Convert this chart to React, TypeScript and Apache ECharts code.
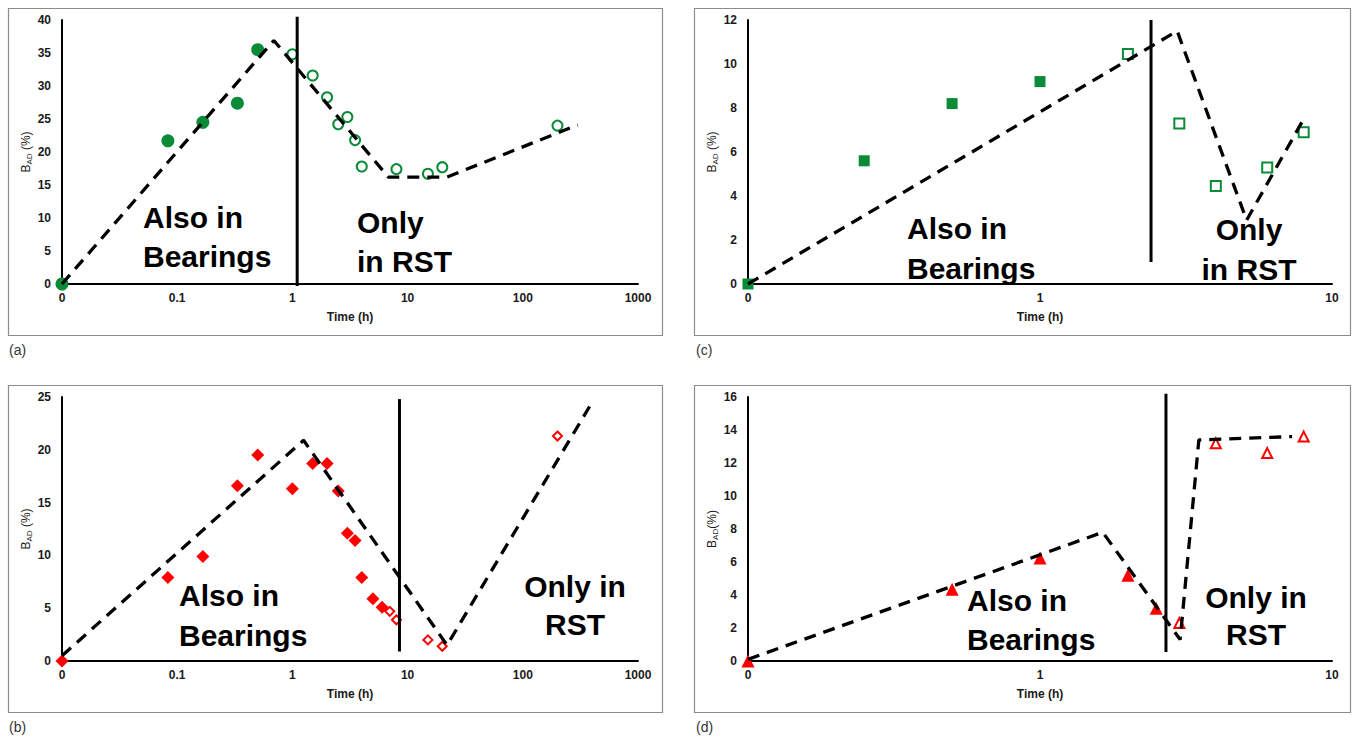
import React, { useEffect, useRef } from "react";
import * as echarts from "echarts";

const FONT = "Arial, 'Liberation Sans', Helvetica, sans-serif";
const GREEN = "#0b8a37";
const RED = "#ff0000";
const INK = "#1a1a1a";

// ---------- Panel (a) ----------
const aBearTime = [0, 0.083, 0.167, 0.333, 0.5];
const aBearVal = [0, 21.7, 24.5, 27.4, 35.5];
const aRstTime = [1, 1.5, 2, 2.5, 3, 3.5, 4, 8, 15, 20, 200];
const aRstVal = [34.8, 31.6, 28.3, 24.2, 25.3, 21.8, 17.8, 17.4, 16.7, 17.7, 24.0];
const aTrendTime = [0, 0.69, 6.8, 22, 300];
const aTrendVal = [0, 36.9, 16.2, 16.2, 24.1];
const aDividerTime = 1.1;
const aDividerRange = [-0.3, 40.5];

// ---------- Panel (b) ----------
const bBearTime = [0, 0.083, 0.167, 0.333, 0.5, 1, 1.5, 2, 2.5, 3, 3.5, 4, 5, 6];
const bBearVal = [0, 7.9, 9.9, 16.6, 19.5, 16.3, 18.7, 18.7, 16.1, 12.1, 11.4, 7.9, 5.9, 5.1];
const bRstTime = [7, 8, 15, 20, 200];
const bRstVal = [4.7, 3.9, 2.0, 1.4, 21.3];
const bTrendTime = [0, 1.25, 22, 380];
const bTrendVal = [0.5, 20.9, 1.5, 24.1];
const bDividerTime = 8.5;
const bDividerRange = [0.9, 24.8];

// ---------- Panel (c) ----------
const cBearTime = [0, 0.25, 0.5, 1];
const cBearVal = [0, 5.6, 8.2, 9.2];
const cRstTime = [2, 3, 4, 6, 8];
const cRstVal = [10.45, 7.3, 4.45, 5.3, 6.9];
const cTrendTime = [0, 2.95, 5.1, 8];
const cTrendVal = [0, 11.5, 2.9, 7.5];
const cDividerTime = 2.4;
const cDividerRange = [1.0, 12.0];

// ---------- Panel (d) ----------
const dBearTime = [0, 0.5, 1, 2, 2.5];
const dBearVal = [0, 4.35, 6.25, 5.2, 3.2];
const dRstTime = [3, 4, 6, 8];
const dRstVal = [2.3, 13.2, 12.6, 13.6];
const dTrendTime = [0, 1.64, 3.02, 3.5, 7.3];
const dTrendVal = [0.1, 7.8, 1.3, 13.4, 13.6];
const dDividerTime = 2.7;
const dDividerRange = [0.55, 16.2];

// axis settings
const xMinAB = 0.01;
const xMaxAB = 1000;
const xMinCD = 0.1;
const xMaxCD = 10;
const yMaxList = [40, 25, 12, 16];
const yIntervalList = [5, 5, 2, 2];
const xAxisTitle = "Time (h)";
const alsoLines = ["Also in", "Bearings"];

type PanelDef = {
  grid: { left: number; top: number; width: number; height: number };
  xMin: number;
  xMax: number;
  yMax: number;
  yInt: number;
  yName: string;
  color: string;
  symbol: string;
  fillSize: number;
  openSize: number;
  bear: [number[], number[]];
  rst: [number[], number[]];
  trend: [number[], number[]];
  divider: [number, number[]];
};

const panels: PanelDef[] = [
  {
    grid: { left: 62, top: 20, width: 576, height: 264 },
    xMin: xMinAB, xMax: xMaxAB, yMax: yMaxList[0], yInt: yIntervalList[0],
    yName: "{b|B}{s|AD}{b| (%)}", color: GREEN, symbol: "circle", fillSize: 13, openSize: 10,
    bear: [aBearTime, aBearVal], rst: [aRstTime, aRstVal], trend: [aTrendTime, aTrendVal],
    divider: [aDividerTime, aDividerRange],
  },
  {
    grid: { left: 62, top: 397, width: 576, height: 264 },
    xMin: xMinAB, xMax: xMaxAB, yMax: yMaxList[1], yInt: yIntervalList[1],
    yName: "{b|B}{s|AD}{b| (%)}", color: RED, symbol: "diamond", fillSize: 13, openSize: 9,
    bear: [bBearTime, bBearVal], rst: [bRstTime, bRstVal], trend: [bTrendTime, bTrendVal],
    divider: [bDividerTime, bDividerRange],
  },
  {
    grid: { left: 748, top: 20, width: 584, height: 264 },
    xMin: xMinCD, xMax: xMaxCD, yMax: yMaxList[2], yInt: yIntervalList[2],
    yName: "{b|B}{s|AD}{b| (%)}", color: GREEN, symbol: "rect", fillSize: 11, openSize: 10,
    bear: [cBearTime, cBearVal], rst: [cRstTime, cRstVal], trend: [cTrendTime, cTrendVal],
    divider: [cDividerTime, cDividerRange],
  },
  {
    grid: { left: 748, top: 397, width: 584, height: 264 },
    xMin: xMinCD, xMax: xMaxCD, yMax: yMaxList[3], yInt: yIntervalList[3],
    yName: "{b|B}{s|AD}{b|(%)}", color: RED, symbol: "triangle", fillSize: 13, openSize: 10,
    bear: [dBearTime, dBearVal], rst: [dRstTime, dRstVal], trend: [dTrendTime, dTrendVal],
    divider: [dDividerTime, dDividerRange],
  },
];

const pairs = (t: number[], v: number[], xMin: number) =>
  t.map((x, i) => [x === 0 ? xMin : x, v[i]]);

function buildOption() {
  const grid: any[] = [];
  const xAxis: any[] = [];
  const yAxis: any[] = [];
  const series: any[] = [];

  panels.forEach((p, i) => {
    grid.push({ ...p.grid, containLabel: false });
    xAxis.push({
      type: "log",
      logBase: 10,
      gridIndex: i,
      min: p.xMin,
      max: p.xMax,
      name: xAxisTitle,
      nameLocation: "middle",
      nameGap: 27,
      nameTextStyle: { fontFamily: FONT, fontSize: 12, fontWeight: "bold", color: INK },
      axisLine: { show: true, onZero: false, lineStyle: { color: "#000", width: 2 } },
      axisTick: { show: false },
      splitLine: { show: false },
      minorTick: { show: false },
      axisLabel: {
        fontFamily: FONT,
        fontSize: 12,
        fontWeight: "bold",
        color: INK,
        margin: 8,
        showMinLabel: true,
        showMaxLabel: true,
        formatter: (v: number) =>
          Math.abs(v - p.xMin) < p.xMin * 1e-6 ? "0" : String(+Number(v).toPrecision(6)),
      },
    });
    yAxis.push({
      type: "value",
      gridIndex: i,
      min: 0,
      max: p.yMax,
      interval: p.yInt,
      name: p.yName,
      nameLocation: "middle",
      nameGap: 25,
      nameRotate: 90,
      nameTextStyle: {
        color: INK,
        fontFamily: FONT,
        rich: {
          b: { fontSize: 12, fontFamily: FONT, color: INK, lineHeight: 16, verticalAlign: "middle" },
          s: { fontSize: 8, fontFamily: FONT, color: INK, lineHeight: 8, verticalAlign: "bottom" },
        },
      },
      axisLine: { show: true, onZero: false, lineStyle: { color: "#000", width: 2 } },
      axisTick: { show: false },
      splitLine: { show: false },
      axisLabel: { fontFamily: FONT, fontSize: 12, fontWeight: "bold", color: INK, margin: 11 },
    });

    series.push({
      type: "scatter",
      xAxisIndex: i,
      yAxisIndex: i,
      symbol: p.symbol,
      symbolSize: p.fillSize,
      data: pairs(p.bear[0], p.bear[1], p.xMin),
      itemStyle: { color: p.color, opacity: 1 },
      z: 3,
    });
    series.push({
      type: "scatter",
      xAxisIndex: i,
      yAxisIndex: i,
      symbol: p.symbol,
      symbolSize: p.openSize,
      data: pairs(p.rst[0], p.rst[1], p.xMin),
      itemStyle: { color: "#ffffff", borderColor: p.color, borderWidth: 2, opacity: 1 },
      z: 3,
    });
    series.push({
      type: "line",
      xAxisIndex: i,
      yAxisIndex: i,
      data: pairs(p.trend[0], p.trend[1], p.xMin),
      symbol: "none",
      clip: false,
      lineStyle: { color: "#000", width: 3.3, type: [12, 8] },
      z: 4,
    });
    series.push({
      type: "line",
      xAxisIndex: i,
      yAxisIndex: i,
      data: [
        [p.divider[0], p.divider[1][0]],
        [p.divider[0], p.divider[1][1]],
      ],
      symbol: "none",
      clip: false,
      lineStyle: { color: "#000", width: 3, type: "solid" },
      z: 4,
    });
  });

  const boxes = [
    { x: 8, y: 8, w: 654, h: 327, label: "(a)", lx: 9, ly: 350 },
    { x: 8, y: 385, w: 654, h: 327, label: "(b)", lx: 9, ly: 727 },
    { x: 694, y: 8, w: 656, h: 327, label: "(c)", lx: 696, ly: 350 },
    { x: 694, y: 385, w: 656, h: 327, label: "(d)", lx: 696, ly: 727 },
  ];

  const graphic: any[] = [];
  boxes.forEach((b) => {
    graphic.push({
      type: "rect",
      shape: { x: b.x + 0.5, y: b.y + 0.5, width: b.w, height: b.h },
      style: { fill: "none", stroke: "#8c8c8c", lineWidth: 1.2 },
      z: -1,
      silent: true,
    });
    graphic.push({
      type: "text",
      x: b.lx,
      y: b.ly,
      style: {
        text: b.label,
        font: `14px ${FONT}`,
        fill: "#333",
        align: "left",
        verticalAlign: "middle",
        textAlign: "left",
        textVerticalAlign: "middle",
      },
      silent: true,
    });
  });

  const notes: { t: string; x: number; y: number; a: string }[] = [
    { t: alsoLines[0], x: 143, y: 217, a: "left" },
    { t: alsoLines[1], x: 143, y: 256, a: "left" },
    { t: "Only", x: 357, y: 222, a: "left" },
    { t: "in RST", x: 357, y: 261, a: "left" },
    { t: alsoLines[0], x: 179, y: 595, a: "left" },
    { t: alsoLines[1], x: 179, y: 635, a: "left" },
    { t: "Only in", x: 575, y: 586, a: "center" },
    { t: "RST", x: 575, y: 624, a: "center" },
    { t: alsoLines[0], x: 907, y: 228, a: "left" },
    { t: alsoLines[1], x: 907, y: 268, a: "left" },
    { t: "Only", x: 1249, y: 229, a: "center" },
    { t: "in RST", x: 1249, y: 269, a: "center" },
    { t: alsoLines[0], x: 967, y: 600, a: "left" },
    { t: alsoLines[1], x: 967, y: 639, a: "left" },
    { t: "Only in", x: 1256, y: 597, a: "center" },
    { t: "RST", x: 1256, y: 634, a: "center" },
  ];
  notes.forEach((n) => {
    graphic.push({
      type: "text",
      x: n.x,
      y: n.y,
      z: 10,
      style: {
        text: n.t,
        font: `bold 30px ${FONT}`,
        fill: "#000",
        align: n.a,
        verticalAlign: "middle",
        textAlign: n.a,
        textVerticalAlign: "middle",
      },
      silent: true,
    });
  });

  return {
    animation: false,
    backgroundColor: "#ffffff",
    textStyle: { fontFamily: FONT },
    grid,
    xAxis,
    yAxis,
    series,
    graphic,
  };
}

export default function App() {
  const ref = useRef<HTMLDivElement>(null);
  useEffect(() => {
    if (!ref.current) return;
    const chart = echarts.init(ref.current, undefined, { renderer: "svg" });
    chart.setOption(buildOption() as any);
    return () => chart.dispose();
  }, []);
  return (
    <div
      ref={ref}
      style={{ position: "fixed", left: 0, top: 0, width: 1352, height: 738, background: "#fff" }}
    />
  );
}
